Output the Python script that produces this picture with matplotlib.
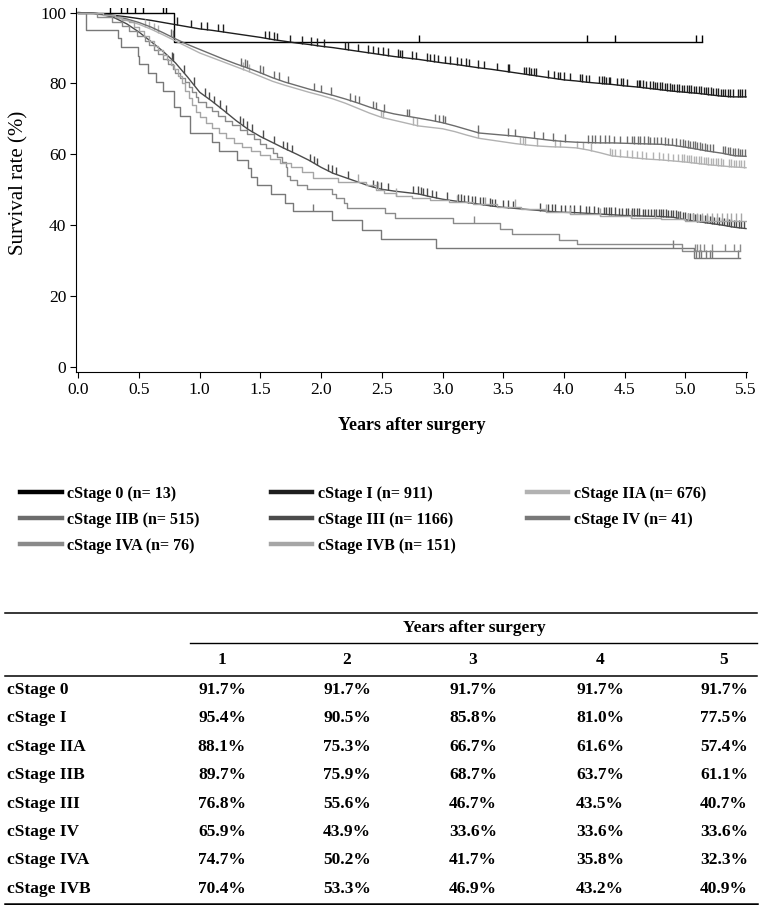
import numpy as np
import matplotlib
matplotlib.use("Agg")
import matplotlib.pyplot as plt
from matplotlib.lines import Line2D

plt.rcParams['font.family'] = ['Liberation Serif', 'DejaVu Serif']

# ---- data ----
stages = ['cStage 0', 'cStage I', 'cStage IIA', 'cStage IIB', 'cStage III',
          'cStage IV', 'cStage IVA', 'cStage IVB']
n_pat = [13, 911, 676, 515, 1166, 41, 76, 151]
colors = ['#000000', '#1e1e1e', '#b2b2b2', '#6c6c6c', '#4b4b4b',
          '#787878', '#8a8a8a', '#a6a6a6']

# large groups: survival read every 0.1 year (0.0 ... 5.5)
grid_t = np.linspace(0, 5.5, 56)
surv_I = [100, 99.9, 99.6, 99.2, 98.8, 98.3, 97.8, 97.2, 96.6, 96.0,
          95.4, 95.0, 94.5, 94.0, 93.5, 93.0, 92.4, 91.9, 91.4, 91.0,
          90.5, 90.1, 89.6, 89.1, 88.6, 88.1, 87.6, 87.2, 86.8, 86.3,
          85.8, 85.4, 84.9, 84.4, 84.0, 83.5, 83.0, 82.5, 82.0, 81.5,
          81.0, 80.7, 80.3, 80.0, 79.7, 79.3, 79.0, 78.6, 78.2, 77.8,
          77.5, 77.2, 76.8, 76.4, 76.2, 76.2]
surv_IIA = [100, 99.8, 99.3, 98.6, 97.8, 96.7, 95.3, 93.7, 92.0, 90.3,
            88.6, 87.3, 86.0, 84.7, 83.4, 82.0, 80.6, 79.5, 78.5, 77.5,
            76.6, 75.6, 74.4, 73.0, 71.6, 70.4, 69.6, 68.8, 68.0, 67.6,
            67.2, 66.4, 65.4, 64.5, 64.0, 63.5, 63.0, 62.6, 62.3, 62.1,
            62.0, 61.8, 61.2, 60.4, 59.5, 59.2, 58.9, 58.6, 58.4, 58.1,
            57.8, 57.4, 57.0, 56.7, 56.4, 56.2]
surv_IIB = [100, 99.9, 99.6, 99.0, 98.2, 97.2, 95.9, 94.3, 92.6, 91.0,
            89.6, 88.2, 86.8, 85.5, 84.3, 83.0, 81.6, 80.4, 79.4, 78.4,
            77.5, 76.6, 75.6, 74.5, 73.3, 72.2, 71.4, 70.8, 70.2, 69.6,
            68.9, 68.0, 67.0, 66.0, 65.7, 65.4, 65.1, 64.7, 64.3, 63.9,
            63.6, 63.4, 63.3, 63.2, 63.2, 63.1, 63.0, 62.9, 62.8, 62.5,
            62.0, 61.4, 60.8, 60.3, 59.6, 59.4]
surv_III = [100, 99.9, 99.5, 98.5, 96.8, 94.5, 91.8, 89.0, 85.8, 81.8,
            77.5, 75.0, 72.3, 69.5, 67.0, 65.0, 63.3, 61.6, 60.0, 58.3,
            56.3, 54.6, 53.4, 52.2, 51.0, 50.1, 49.6, 49.2, 48.8, 48.0,
            47.3, 46.8, 46.4, 45.9, 45.4, 45.0, 44.7, 44.4, 44.1, 43.8,
            43.6, 43.5, 43.3, 43.1, 42.9, 42.7, 42.6, 42.5, 42.4, 42.2,
            41.5, 41.0, 40.5, 40.0, 39.4, 39.0]

# small groups: step times and survival after each step
t_0 = [0, 0.79, 5.14]
s_0 = [100, 91.7, 91.7]
t_IV = [0, 0.06, 0.33, 0.35, 0.49, 0.50, 0.57, 0.64, 0.70, 0.785, 0.84, 0.92,
        1.10, 1.16, 1.31, 1.40, 1.42, 1.47, 1.59, 1.70, 1.77, 2.09, 2.34,
        2.49, 2.95, 5.07, 5.45]
s_IV = [100, 95.1, 92.7, 90.2, 87.8, 85.4, 82.9, 80.5, 78.0, 73.2, 70.7, 65.9,
        63.4, 61.0, 58.5, 56.1, 53.7, 51.2, 48.8, 46.3, 43.9, 41.3, 38.7,
        36.1, 33.6, 30.8, 30.8]
t_IVA = [0, 0.15, 0.28, 0.36, 0.42, 0.48, 0.55, 0.58, 0.62, 0.66, 0.70, 0.74,
         0.78, 0.80, 0.84, 0.88, 0.91, 0.94, 0.97, 0.99,
         1.05, 1.10, 1.15, 1.21, 1.27, 1.33, 1.39, 1.45, 1.50, 1.55, 1.60,
         1.64, 1.68, 1.71, 1.72, 1.74, 1.80, 1.88,
         2.09, 2.12, 2.19, 2.21, 2.53, 2.61, 3.09, 3.47, 3.57, 3.96, 4.11,
         4.97, 5.45]
s_IVA = [100, 98.7, 97.4, 96.1, 94.7, 93.4, 92.1, 90.8, 89.5, 88.2, 86.8, 85.5,
         84.2, 82.9, 81.6, 80.3, 78.9, 77.6, 76.3, 74.7,
         73.4, 72.1, 70.8, 69.5, 68.2, 66.9, 65.6, 64.3, 63.0, 61.7, 60.4,
         59.1, 57.8, 56.5, 53.9, 52.6, 51.3, 50.2,
         48.9, 47.6, 46.2, 44.7, 43.3, 41.9, 40.5, 38.8, 37.5, 35.8, 34.6,
         32.6, 32.6]
t_IVB = [0, 0.20, 0.30, 0.36, 0.42, 0.46, 0.50, 0.54, 0.58, 0.62, 0.66, 0.70,
         0.73, 0.76, 0.79, 0.82, 0.85, 0.88, 0.91, 0.94, 0.97, 1.00,
         1.05, 1.10, 1.16, 1.22, 1.28, 1.35, 1.42, 1.50, 1.58, 1.66, 1.75,
         1.84, 1.93,
         2.14, 2.37, 2.45, 2.52, 2.62, 2.75, 2.90, 3.05, 3.25, 3.45, 3.65,
         3.85, 4.05, 4.30, 4.55, 4.80, 5.00, 5.50]
s_IVB = [100, 99.3, 98.7, 98.0, 97.3, 96.0, 94.7, 93.4, 92.0, 90.7, 89.4, 88.0,
         86.7, 85.3, 84.0, 82.0, 80.0, 78.0, 76.0, 74.0, 72.0, 70.4,
         68.8, 67.4, 66.0, 64.6, 63.3, 62.0, 60.9, 59.8, 58.7, 57.5, 56.3,
         55.0, 53.3,
         52.3, 51.3, 50.0, 49.0, 48.3, 47.6, 47.0, 46.5, 45.9, 45.2, 44.5,
         43.8, 43.1, 42.6, 42.1, 41.6, 41.2, 41.2]

# censoring times (years)
cens_0 = [0.26, 0.35, 0.40, 0.47, 0.53, 0.70, 0.72, 2.81, 4.19, 4.42, 5.09, 5.14]
cens_I = [0.81, 0.93, 1.01, 1.06, 1.15, 1.19, 1.54, 1.57, 1.61, 1.64, 1.74,
          1.84, 1.92, 1.97, 2.02, 2.20, 2.22, 2.30, 2.39, 2.43, 2.47, 2.51,
          2.55, 2.63, 2.65, 2.67, 2.75, 2.78, 2.87, 2.90, 2.93, 2.96, 3.02,
          3.06, 3.12, 3.15, 3.19, 3.22, 3.29, 3.34, 3.45, 3.54, 3.55, 3.67,
          3.69, 3.71, 3.73, 3.75, 3.77, 3.87, 3.92, 3.95, 3.97, 4.00, 4.05,
          4.13, 4.15, 4.18, 4.21, 4.29, 4.31, 4.33, 4.35, 4.37, 4.38, 4.44,
          4.47, 4.49, 4.52, 4.60, 4.62, 4.63, 4.65, 4.68, 4.71, 4.73, 4.75,
          4.77, 4.79, 4.81, 4.83, 4.85, 4.87, 4.89, 4.91, 4.93, 4.95, 4.97,
          4.99, 5.01, 5.03, 5.05, 5.07, 5.09, 5.11, 5.13, 5.15, 5.17, 5.19,
          5.21, 5.23, 5.25, 5.27, 5.29, 5.31, 5.33, 5.35, 5.37, 5.39, 5.43,
          5.45, 5.47, 5.49]
cens_IIA = [0.55, 0.58, 0.62, 0.66, 1.36, 1.41, 2.49, 2.51, 2.76, 2.79, 3.29,
            3.64, 3.66, 3.68, 3.78, 3.93, 3.97, 4.11, 4.16, 4.22, 4.38, 4.40,
            4.42, 4.46, 4.52, 4.56, 4.60, 4.64, 4.68, 4.73, 4.78, 4.82, 4.86,
            4.90, 4.94, 4.97, 4.99, 5.01, 5.03, 5.05, 5.07, 5.09, 5.11, 5.13,
            5.15, 5.17, 5.19, 5.21, 5.23, 5.25, 5.27, 5.29, 5.31, 5.36, 5.38,
            5.40, 5.42, 5.44, 5.46, 5.48]
cens_IIB = [0.76, 0.78, 1.34, 1.37, 1.39, 1.50, 1.52, 1.61, 1.65, 1.73, 1.94,
            2.00, 2.08, 2.24, 2.28, 2.31, 2.43, 2.45, 2.52, 2.71, 2.72, 2.94,
            2.97, 3.00, 3.02, 3.29, 3.54, 3.60, 3.75, 3.83, 3.91, 4.01, 4.20,
            4.23, 4.26, 4.30, 4.34, 4.37, 4.41, 4.46, 4.52, 4.56, 4.58, 4.61,
            4.63, 4.66, 4.69, 4.71, 4.74, 4.77, 4.80, 4.83, 4.86, 4.89, 4.92,
            4.96, 4.98, 5.00, 5.02, 5.04, 5.06, 5.08, 5.10, 5.12, 5.14, 5.16,
            5.18, 5.20, 5.23, 5.31, 5.33, 5.35, 5.37, 5.39, 5.41, 5.43, 5.45,
            5.47, 5.49]
cens_III = [0.77, 0.78, 0.87, 0.95, 1.04, 1.08, 1.12, 1.17, 1.22, 1.33, 1.36,
            1.39, 1.43, 1.52, 1.61, 1.69, 1.72, 1.76, 1.91, 1.94, 1.97, 2.06,
            2.09, 2.12, 2.22, 2.43, 2.46, 2.49, 2.55, 2.76, 2.80, 2.82, 2.84,
            2.87, 2.91, 2.95, 3.04, 3.13, 3.15, 3.18, 3.21, 3.24, 3.27, 3.31,
            3.33, 3.39, 3.41, 3.43, 3.50, 3.54, 3.58, 3.80, 3.87, 3.90, 3.93,
            3.98, 4.01, 4.05, 4.08, 4.13, 4.18, 4.21, 4.25, 4.28, 4.33, 4.35,
            4.37, 4.39, 4.42, 4.45, 4.48, 4.51, 4.53, 4.56, 4.58, 4.60, 4.62,
            4.65, 4.67, 4.69, 4.72, 4.74, 4.76, 4.78, 4.80, 4.82, 4.84, 4.86,
            4.88, 4.90, 4.92, 4.94, 4.96, 4.98, 5.00, 5.02, 5.04, 5.06, 5.08,
            5.10, 5.12, 5.14, 5.16, 5.18, 5.20, 5.22, 5.24, 5.26, 5.28, 5.30,
            5.32, 5.34, 5.36, 5.38, 5.40, 5.42, 5.44, 5.46, 5.48]
cens_IV = [1.93, 4.90, 5.09, 5.11, 5.13, 5.17, 5.20, 5.22, 5.43]
cens_IVA = [3.26, 5.08, 5.10, 5.12, 5.15, 5.22, 5.33, 5.40, 5.45]
cens_IVB = [2.30, 2.47, 2.62, 3.12, 3.35, 3.60, 3.85, 4.05, 4.30, 4.55, 4.75,
            4.95, 5.02, 5.06, 5.10, 5.14, 5.18, 5.22, 5.26, 5.30, 5.34, 5.38,
            5.42, 5.46]

# table of survival rates
tab_years = [1, 2, 3, 4, 5]
rate_0 = [91.7, 91.7, 91.7, 91.7, 91.7]
rate_I = [95.4, 90.5, 85.8, 81.0, 77.5]
rate_IIA = [88.1, 75.3, 66.7, 61.6, 57.4]
rate_IIB = [89.7, 75.9, 68.7, 63.7, 61.1]
rate_III = [76.8, 55.6, 46.7, 43.5, 40.7]
rate_IV = [65.9, 43.9, 33.6, 33.6, 33.6]
rate_IVA = [74.7, 50.2, 41.7, 35.8, 32.3]
rate_IVB = [70.4, 53.3, 46.9, 43.2, 40.9]

curves = [
    (t_0, s_0, 'step', cens_0),
    (grid_t, surv_I, 'line', cens_I),
    (grid_t, surv_IIA, 'line', cens_IIA),
    (grid_t, surv_IIB, 'line', cens_IIB),
    (grid_t, surv_III, 'line', cens_III),
    (t_IV, s_IV, 'step', cens_IV),
    (t_IVA, s_IVA, 'step', cens_IVA),
    (t_IVB, s_IVB, 'step', cens_IVB),
]
rates = [rate_0, rate_I, rate_IIA, rate_IIB, rate_III, rate_IV, rate_IVA, rate_IVB]

W, H = 767, 905
fig = plt.figure(figsize=(W / 100, H / 100), dpi=100)
ax = fig.add_axes([76 / W, 1 - 372 / H, (747 - 76) / W, (372 - 8) / H])

for (t, s, kind, cens), col in zip(curves, colors):
    t = np.asarray(t, float)
    s = np.asarray(s, float)
    cens = np.asarray(cens, float)
    if kind == 'step':
        ax.step(t, s, where='post', color=col, lw=1.0)
        cy = s[np.searchsorted(t, cens, side='right') - 1]
    else:
        ax.plot(t, s, color=col, lw=1.0)
        cy = np.interp(cens, t, s)
    ax.vlines(cens, cy, cy + 2.1, color=col, lw=1.0)

ax.set_xlim(-0.019, 5.508)
ax.set_ylim(-1.5, 101.3)
ax.set_xticks(np.arange(0, 5.51, 0.5))
ax.set_xticklabels([f"{v:.1f}" for v in np.arange(0, 5.51, 0.5)])
ax.set_yticks([0, 20, 40, 60, 80, 100])
ax.tick_params(direction='out', length=4, width=0.8, labelsize=12.5, pad=3)
for sp in ['top', 'right']:
    ax.spines[sp].set_visible(False)
for sp in ['left', 'bottom']:
    ax.spines[sp].set_linewidth(0.8)
ax.set_xlabel('Years after surgery', fontsize=13, fontweight='bold', labelpad=14)
ax.set_ylabel('Survival rate (%)', fontsize=15)
ax.yaxis.set_label_coords(-0.071, 0.52)

# legend, filled row by row
handles = [Line2D([], [], color=c, lw=3.2) for c in colors]
labels = [f"{s} (n= {n})" for s, n in zip(stages, n_pat)]
order = [0, 3, 6, 1, 4, 7, 2, 5]
fig.legend([handles[i] for i in order], [labels[i] for i in order], ncol=3,
           loc='upper left', bbox_to_anchor=(20 / W, 1 - 486 / H),
           frameon=False, borderpad=0, borderaxespad=0,
           handlelength=2.6, handletextpad=0.35, columnspacing=4.45,
           labelspacing=0.62, prop={'weight': 'bold', 'size': 11.5})

# table below the chart
tx = fig.add_axes([0, 0, 1, 1], zorder=-1)
tx.set_xlim(0, W)
tx.set_ylim(H, 0)
tx.axis('off')
tfont = dict(fontsize=12.5, fontweight='bold', va='center')
col_x = [222, 347, 473, 600, 724]
tx.plot([5, 757], [613, 613], color='black', lw=1.1)
tx.text(474, 628, 'Years after surgery', ha='center', **tfont)
tx.plot([190, 757], [643, 643], color='black', lw=1.0)
for yr, x in zip(tab_years, col_x):
    tx.text(x, 660, str(yr), ha='center', **tfont)
tx.plot([5, 757], [676, 676], color='black', lw=1.1)
for i, (name, row) in enumerate(zip(stages, rates)):
    y = 690 + i * 28.4
    tx.text(7, y, name, ha='left', **tfont)
    for v, x in zip(row, col_x):
        tx.text(x, y, f"{v:.1f}%", ha='center', **tfont)
tx.plot([5, 757], [903.5, 903.5], color='black', lw=1.8)

fig.savefig('out.png', dpi=100)
